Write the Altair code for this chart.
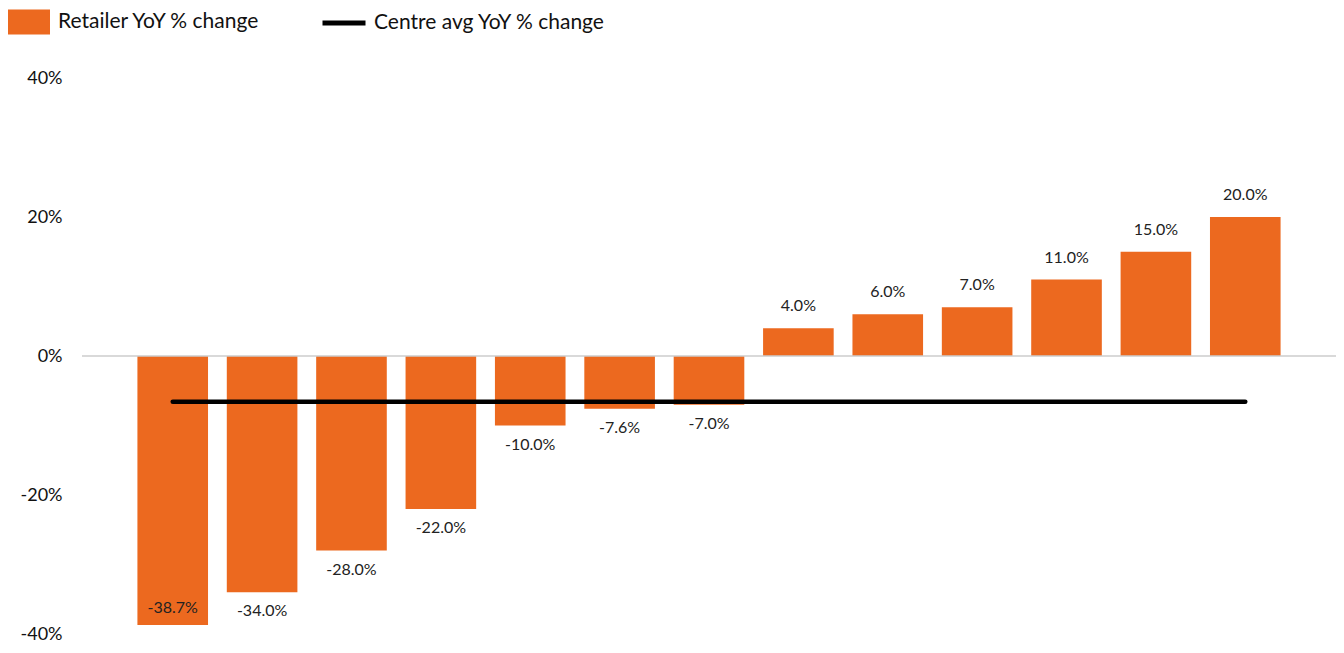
import altair as alt
import pandas as pd

retailers = ["R1", "R2", "R3", "R4", "R5", "R6", "R7", "R8", "R9", "R10", "R11", "R12", "R13"]
yoy = [-38.7, -34.0, -28.0, -22.0, -10.0, -7.6, -7.0, 4.0, 6.0, 7.0, 11.0, 15.0, 20.0]
centre_avg = [-6.6] * len(retailers)
y_ticks = [-40, -20, 0, 20, 40]

BAR_NAME = "Retailer YoY % change"
LINE_NAME = "Centre avg YoY % change"
ORANGE = "#EC691F"
FONT = "Lato"

df = pd.DataFrame({
    "retailer": retailers,
    "yoy": yoy,
    "avg": centre_avg,
    "s_bar": BAR_NAME,
    "s_line": LINE_NAME,
})
df["label"] = df["yoy"].map(lambda v: f"{v:.1f}%")

x = alt.X("retailer:N", sort=retailers, axis=None,
          scale=alt.Scale(paddingInner=0.21, paddingOuter=0.62))
yscale = alt.Scale(domain=[-40, 40], nice=False, zero=False)

base = alt.Chart(df)

bars = base.mark_bar().encode(
    x=x,
    y=alt.Y("yoy:Q", scale=yscale, title=None,
            axis=alt.Axis(values=y_ticks, labelExpr="datum.value + '%'", grid=False,
                          ticks=False, domain=False, labelPadding=20,
                          labelFontSize=18, labelColor="#111", labelFont=FONT)),
    fill=alt.Fill("s_bar:N", scale=alt.Scale(domain=[BAR_NAME], range=[ORANGE]),
                  legend=alt.Legend(title=None, orient="none", legendX=-74, legendY=-77,
                                    symbolType="M-1,-0.6H1V0.6H-1Z", symbolSize=1764,
                                    symbolStrokeWidth=0, labelFontSize=21, labelFont=FONT,
                                    labelColor="#111", labelOffset=8, labelLimit=0)),
)

zero = alt.Chart(pd.DataFrame({"z": [0]})).mark_rule(color="#cccccc", strokeWidth=1.5).encode(
    y=alt.Y("z:Q", scale=yscale),
    x=alt.value(0),
    x2=alt.value(1262),
)

line = base.mark_line(strokeWidth=4.5, strokeCap="round").encode(
    x=x,
    y=alt.Y("avg:Q", scale=yscale),
    stroke=alt.Stroke("s_line:N", scale=alt.Scale(domain=[LINE_NAME], range=["#000000"]),
                      legend=alt.Legend(title=None, orient="none", legendX=238, legendY=-79,
                                        symbolType="stroke", symbolSize=1849,
                                        symbolStrokeWidth=5, labelFontSize=21, labelFont=FONT,
                                        labelColor="#111", labelOffset=6, labelLimit=0)),
)

txt_style = dict(fontSize=16, font=FONT, color="#222", baseline="middle", align="center")
pos_text = base.transform_filter("datum.yoy >= 0").mark_text(dy=-22, **txt_style).encode(
    x=x, y=alt.Y("yoy:Q", scale=yscale), text="label:N")
neg_text = base.transform_filter("datum.yoy < 0 && datum.yoy > -35").mark_text(dy=19, **txt_style).encode(
    x=x, y=alt.Y("yoy:Q", scale=yscale), text="label:N")
in_text = base.transform_filter("datum.yoy <= -35").mark_text(dy=-17, **txt_style).encode(
    x=x, y=alt.Y("yoy:Q", scale=yscale), text="label:N")

chart = alt.layer(bars, zero, line, pos_text, neg_text, in_text).properties(
    width=1254, height=556,
    autosize=alt.AutoSizeParams(type="none"),
    padding={"left": 74, "top": 70, "right": 0, "bottom": 9},
).configure_view(stroke=None).resolve_legend(fill="independent", stroke="independent")

chart.save("out.html", embed_options={"renderer": "svg", "actions": False})
